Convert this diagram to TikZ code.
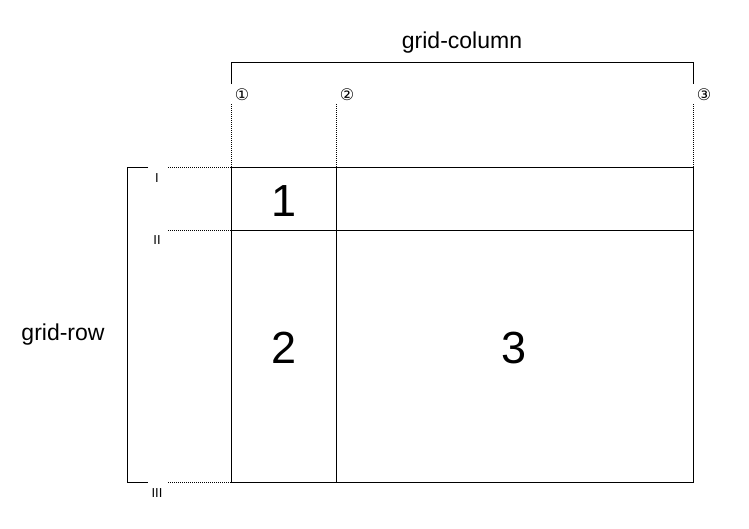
\documentclass[tikz,border=0pt]{standalone}
\usepackage{fontspec}
\setmainfont{Liberation Sans}
\newfontfamily\symfont{DejaVu Sans}
\begin{document}
\begin{tikzpicture}[x=1pt,y=-1pt,
  solidline/.style={line width=0.9pt,black},
  dotline/.style={line width=0.9pt,black,dash pattern=on 1pt off 1pt},
  biglabel/.style={font=\fontsize{23}{27}\selectfont,inner sep=0pt},
  cellnum/.style={font=\fontsize{45}{52}\selectfont,inner sep=0pt},
  marker/.style={font=\symfont\fontsize{16}{18}\selectfont,inner sep=0pt},
  roman/.style={font=\fontsize{13}{15}\selectfont,inner sep=0pt}]
\useasboundingbox (0,0) rectangle (749,528);
% grid corners
\coordinate (tl) at (231,167);
\coordinate (tr) at (693,167);
\coordinate (bl) at (231,482);
\coordinate (br) at (693,482);
\coordinate (ct) at (336,167);
\coordinate (cb) at (336,482);
\coordinate (rl) at (231,230);
\coordinate (rr) at (693,230);
\draw[solidline] (tl) rectangle (br);
\draw[solidline] (ct) -- (cb);
\draw[solidline] (rl) -- (rr);
% column bracket
\coordinate (cbl) at (231,84);
\coordinate (cbr) at (693,84);
\draw[solidline] (cbl) -- (231,62) -- (693,62) -- (cbr);
\node[biglabel] (gc) at (462,43) {grid-column};
% column markers
\node[marker] (m1) at (242,95) {①};
\node[marker] (m2) at (347,95) {②};
\node[marker] (m3) at (704,95) {③};
\coordinate (d1) at (231,104);
\coordinate (d2) at (336,104);
\coordinate (d3) at (693,104);
\draw[dotline] (d1) -- (tl);
\draw[dotline] (d2) -- (ct);
\draw[dotline] (d3) -- (tr);
% row bracket
\coordinate (rbt) at (148,167);
\coordinate (rbb) at (148,482);
\draw[solidline] (rbt) -- (127,167) -- (127,482) -- (rbb);
\node[biglabel] (gr) at (63,335) {grid-row};
% row markers
\node[roman] (r1) at (157,178) {I};
\node[roman] (r2) at (157,240) {II};
\node[roman] (r3) at (157,493) {III};
\coordinate (h1) at (168,167);
\coordinate (h2) at (168,230);
\coordinate (h3) at (168,482);
\draw[dotline] (h1) -- (tl);
\draw[dotline] (h2) -- (rl);
\draw[dotline] (h3) -- (bl);
% cell numbers
\node[cellnum] (c1) at (284,201) {1};
\node[cellnum] (c2) at (284,348) {2};
\node[cellnum] (c3) at (514,348) {3};
\end{tikzpicture}
\end{document}
